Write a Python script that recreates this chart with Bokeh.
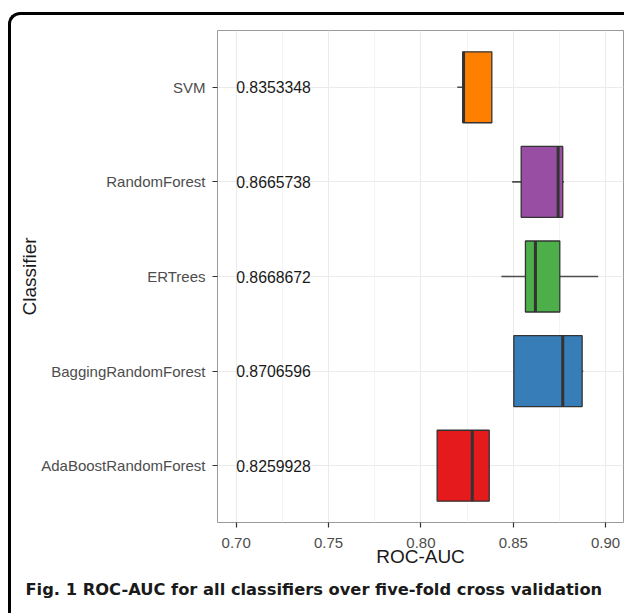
from bokeh.plotting import figure
from bokeh.models import (FactorRange, Range1d, FixedTicker, NumeralTickFormatter,
                          Title, ColumnDataSource)
from bokeh.transform import dodge
from bokeh.embed import file_html
from bokeh.resources import INLINE
from bokeh.core.properties import value

# ---------------- data ----------------
classifiers = ["SVM", "RandomForest", "ERTrees", "BaggingRandomForest", "AdaBoostRandomForest"]
mean_auc = ["0.8353348", "0.8665738", "0.8668672", "0.8706596", "0.8259928"]
whisker_low = [0.8197, 0.8494, 0.8436, 0.8503, 0.8088]
q1 = [0.8227, 0.8543, 0.8566, 0.8503, 0.8088]
median = [0.8231, 0.8743, 0.8620, 0.8768, 0.8278]
q3 = [0.8384, 0.8768, 0.8752, 0.8873, 0.8370]
whisker_high = [0.8384, 0.8774, 0.8960, 0.8879, 0.8370]
fill_colors = ["#FF7F00", "#984EA3", "#4DAF4A", "#377EB8", "#E41A1C"]
x_ticks = [0.70, 0.75, 0.80, 0.85, 0.90]
label_x = 0.70
x_title = "ROC-AUC"
y_title = "Classifier"
caption = "Fig. 1 ROC-AUC for all classifiers over five-fold cross validation"

# ---------------- layout (page pixels) ----------------
BX, BY, BW = 8, 12, 3           # rounded border position / width
OX, OY = BX + BW, BY + BW       # canvas origin inside the border
W, H = 627 - OX, 616 - OY       # canvas size
FL, FR, FT, FB = 217, 623, 30, 522   # frame edges
x0, x1 = 0.68988, 0.90969

y_range = FactorRange(factors=classifiers[::-1], range_padding=0.1,
                      range_padding_units="absolute")

p = figure(width=W, height=H, x_range=Range1d(x0, x1), y_range=y_range,
           output_backend="svg", toolbar_location=None,
           min_border_left=FL - OX, min_border_right=OX + W - FR,
           min_border_top=FT - OY, min_border_bottom=OY + H - FB,
           styles={"border-left": f"{BW}px solid black",
                   "border-top": f"{BW}px solid black",
                   "border-top-left-radius": "12px",
                   "margin-left": f"{BX}px",
                   "margin-top": f"{BY}px"})

p.background_fill_color = "white"
p.border_fill_color = None
p.outline_line_color = "#9a9a9a"
p.outline_line_width = 1

src = ColumnDataSource(dict(cls=classifiers, lo=whisker_low, q1=q1, med=median,
                            q3=q3, hi=whisker_high, color=fill_colors,
                            label=mean_auc, lx=[label_x] * len(classifiers)))

# whiskers
p.segment(x0="lo", y0="cls", x1="q1", y1="cls", source=src,
          line_color="#4d4d4d", line_width=1.6)
p.segment(x0="q3", y0="cls", x1="hi", y1="cls", source=src,
          line_color="#4d4d4d", line_width=1.6)
# boxes
p.hbar(y="cls", left="q1", right="q3", height=0.75, source=src,
       fill_color="color", line_color="#333333", line_width=1.3)
# medians
p.segment(x0="med", y0=dodge("cls", -0.375, range=p.y_range),
          x1="med", y1=dodge("cls", 0.375, range=p.y_range),
          source=src, line_color="#333333", line_width=3)

# mean labels
p.text(x="lx", y="cls", text="label", source=src, text_align="left",
       text_baseline="middle", text_font=value("Liberation Sans"),
       text_font_size="15.8px", text_color="#1a1a1a")

# axes
minor = [(a + b) / 2 for a, b in zip(x_ticks, x_ticks[1:])]
p.xaxis.ticker = FixedTicker(ticks=x_ticks, minor_ticks=minor)
p.xaxis.formatter = NumeralTickFormatter(format="0.00")
p.xaxis.axis_label = x_title
p.yaxis.axis_label = y_title

for ax in (p.xaxis[0], p.yaxis[0]):
    ax.axis_line_color = None
    ax.major_tick_line_color = "#333333"
    ax.major_tick_line_width = 1.2
    ax.major_tick_in = 0
    ax.major_tick_out = 5
    ax.minor_tick_line_color = None
    ax.major_label_text_font = "Liberation Sans"
    ax.major_label_text_font_size = "15px"
    ax.major_label_text_color = "#4d4d4d"
    ax.axis_label_text_font = "Liberation Sans"
    ax.axis_label_text_font_size = "19px"
    ax.axis_label_text_font_style = "normal"
    ax.axis_label_text_color = "#1a1a1a"

p.xaxis.major_label_standoff = 10
p.xaxis.axis_label_standoff = -5
p.yaxis.major_label_standoff = 7
p.yaxis.axis_label_standoff = -2

p.xgrid.grid_line_color = "#ebebeb"
p.xgrid.minor_grid_line_color = "#f4f4f4"
p.ygrid.grid_line_color = "#ebebeb"

# caption below the x axis
p.add_layout(Title(text=caption, align="left", offset=25 - FL, standoff=16,
                   text_font="DejaVu Sans", text_font_style="bold",
                   text_font_size="16.3px", text_color="#1a1a1a"), "below")

open("out.html", "w").write(file_html(p, INLINE))
